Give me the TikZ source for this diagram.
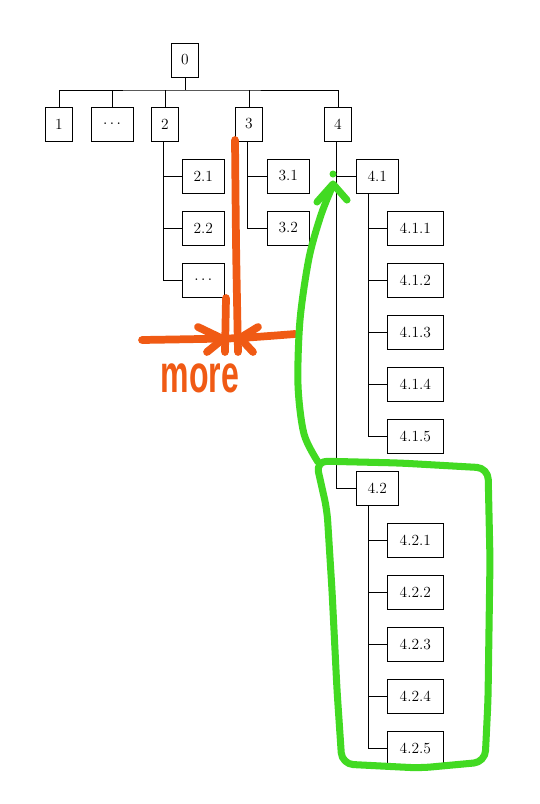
\documentclass[tikz,border=0pt]{standalone}
\usepackage{fontspec}
\usepackage{tikz}
\usetikzlibrary{positioning,calc}
\newfontfamily\scrawl{Liberation Sans}
\definecolor{penorange}{RGB}{240,90,20}
\definecolor{pengreen}{RGB}{66,218,34}

\begin{document}
\begin{tikzpicture}[x=0.025cm,y=-0.025cm,
  box/.style={draw,thin,minimum height=0.85cm,minimum width=0.68cm,inner sep=1pt,font=\fontsize{11}{13}\selectfont},
  wbox/.style={box,minimum width=1.05cm},
  wwbox/.style={box,minimum width=1.4cm},
  link/.style={draw,thin},
  orangepen/.style={penorange,line width=5.5pt,line cap=round,line join=round},
  greenpen/.style={pengreen,line width=5pt,line cap=round,line join=round}]
  \useasboundingbox (0,0) rectangle (540,804);

  \node[box] (n0) at (185,60) {0};
  \node[box] (n1) at (59,124) {1};
  \node[wbox] (ndots) at (112,124) {$\ldots$};
  \node[box] (n2) at (165,124) {2};
  \node[box] (n3) at (249,124) {3};
  \node[box] (n4) at (338,124) {4};
  \coordinate (bar) at (185,90);
  \draw[link] (n0.south) -- (bar);
  \draw[link] (n1.north) |- (bar) -| (n4.north);
  \draw[link] (ndots.north) -- (ndots.north |- bar);
  \draw[link] (n2.north) -- (n2.north |- bar);
  \draw[link] (n3.north) -- (n3.north |- bar);

  \node[wbox,anchor=west] (n21) at (182,176) {2.1};
  \node[wbox,anchor=west] (n22) at (182,228) {2.2};
  \node[wbox,anchor=west] (n2dots) at (182,280) {$\ldots$};
  \foreach \c in {n21,n22,n2dots}
    \draw[link] ([xshift=0.3cm]n2.south west) |- (\c.west);

  \node[wbox,anchor=west] (n31) at (267,176) {3.1};
  \node[wbox,anchor=west] (n32) at (267,228) {3.2};
  \foreach \c in {n31,n32}
    \draw[link] ([xshift=0.3cm]n3.south west) |- (\c.west);

  \node[wbox,anchor=west] (n41) at (356,176) {4.1};
  \node[wbox,anchor=west] (n42) at (356,488) {4.2};
  \foreach \c in {n41,n42}
    \draw[link] ([xshift=0.3cm]n4.south west) |- (\c.west);

  \foreach \i in {1,...,5} {
    \node[wwbox,anchor=west] (n41\i) at (387,{176+52*\i}) {4.1.\i};
    \draw[link] ([xshift=0.3cm]n41.south west) |- (n41\i.west);
    \node[wwbox,anchor=west] (n42\i) at (387,{488+52*\i}) {4.2.\i};
    \draw[link] ([xshift=0.3cm]n42.south west) |- (n42\i.west);
  }

  \draw[orangepen] plot[smooth] coordinates {(235,140) (236,240) (237,300) (238,352)};
  \draw[orangepen] (226,298) -- (225,352);
  \draw[orangepen] plot[smooth] coordinates {(142,340) (200,339) (240,338) (295,334)};
  \draw[orangepen] (198,327) -- (223,339) -- (207,352);
  \draw[orangepen] (258,327) -- (240,338) -- (253,352);
  \node[penorange,font=\scrawl\bfseries\fontsize{38}{40}\selectfont,xscale=0.6] (more) at (200,378) {more};

  \draw[greenpen] plot[smooth] coordinates {(318,462) (304,434) (298,385) (300,320) (309,258) (321,215) (333,185)};
  \draw[greenpen] (317,202) -- (333,184) -- (347,200);
  \fill[pengreen] (333,174) circle (3.5);
  \draw[greenpen,rounded corners=8] (316,461) -- (400,463) -- (488,468) -- (490,560) -- (488,700) -- (485,762) -- (420,768) -- (342,764) -- (337,690) -- (332,590) -- (327,510) -- cycle;
\end{tikzpicture}
\end{document}
